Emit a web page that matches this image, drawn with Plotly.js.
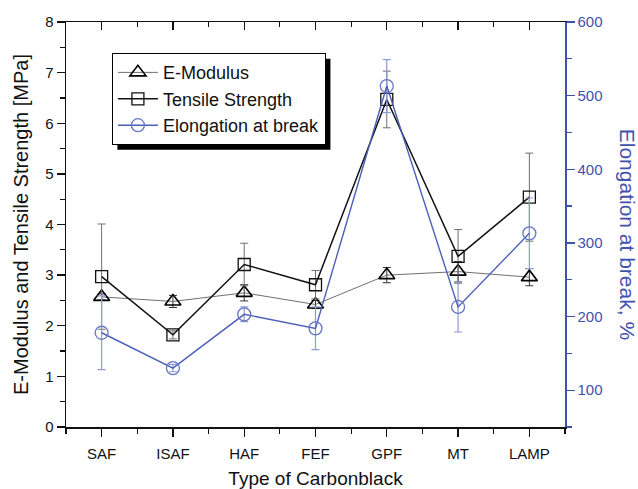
<!DOCTYPE html>
<html>
<head>
<meta charset="utf-8">
<script src="https://cdn.plot.ly/plotly-3.0.1.min.js"></script>
<style>html,body{margin:0;padding:0;background:#fff;}#chart{width:638px;height:489px;}</style>
</head>
<body>
<div id="chart"></div>
<script>
const categories = ['SAF', 'ISAF', 'HAF', 'FEF', 'GPF', 'MT', 'LAMP'];
const eModulus = [2.57, 2.48, 2.65, 2.42, 3.00, 3.07, 2.96];
const eModulusErr = [0.06, 0.12, 0.16, 0.08, 0.15, 0.20, 0.17];
const tensile = [2.97, 1.82, 3.21, 2.81, 6.47, 3.37, 4.54];
const tensileErr = [1.04, 0.08, 0.42, 0.28, 0.56, 0.53, 0.87];
const elongation = [178, 130, 203, 184, 513, 213, 313];
const elongationErr = [50, 5, 10, 29, 36, 34, 48];

const xIdx = categories.map((c, i) => i);
const BLUE = '#3f52ad';
const FONT = 'Liberation Sans, Arial, sans-serif';

const traces = [
  {
    name: 'E-Modulus', x: xIdx, y: eModulus, type: 'scatter', mode: 'lines+markers',
    line: {color: '#707070', width: 1},
    marker: {symbol: 'triangle-up-open', size: 14, color: '#000', line: {color: '#000', width: 1.6}},
    error_y: {type: 'data', array: eModulusErr, visible: true, color: '#333', thickness: 1, width: 4}
  },
  {
    name: 'Tensile Strength', x: xIdx, y: tensile, type: 'scatter', mode: 'lines+markers',
    line: {color: '#111', width: 1.5},
    marker: {symbol: 'square-open', size: 12, color: '#111', line: {color: '#111', width: 1.3}},
    error_y: {type: 'data', array: tensileErr, visible: true, color: '#6e6e6e', thickness: 1, width: 4}
  },
  {
    name: 'Elongation at break', x: xIdx, y: elongation, type: 'scatter', mode: 'lines+markers',
    xaxis: 'x2', yaxis: 'y2',
    line: {color: '#4c5fb8', width: 1.4},
    marker: {symbol: 'circle-open', size: 13, color: '#6676c4', line: {color: '#6676c4', width: 1.3}},
    error_y: {type: 'data', array: elongationErr, visible: true, color: '#8f9bd3', thickness: 1.2, width: 4}
  }
];

const layout = {
  width: 638, height: 489,
  margin: {l: 66, r: 73, t: 22, b: 62},
  paper_bgcolor: '#fff', plot_bgcolor: '#fff',
  font: {family: FONT, color: '#111', size: 14},
  showlegend: true,
  legend: {
    x: 0.092, y: 0.923, xanchor: 'left', yanchor: 'top',
    bgcolor: '#fff', bordercolor: '#000', borderwidth: 1,
    font: {family: FONT, size: 18, color: '#111'},
    tracegroupgap: 0, itemwidth: 40
  },
  xaxis: {
    range: [-0.5, 6.5], tickvals: xIdx, ticktext: categories,
    showgrid: false, zeroline: false, showline: true, linecolor: '#111', linewidth: 1.5,
    ticks: 'outside', ticklen: 8, tickwidth: 1.3, tickcolor: '#111',
    minor: {dtick: 0.5, tick0: 0, ticks: 'outside', ticklen: 5, tickwidth: 1.2, tickcolor: '#111', showgrid: false},
    tickfont: {family: FONT, size: 15, color: '#111'},
    ticklabelstandoff: 4,
    title: {text: 'Type of Carbonblack', font: {family: FONT, size: 19, color: '#111'}, standoff: 14},
    fixedrange: true
  },
  xaxis2: {
    overlaying: 'x', side: 'top', anchor: 'y',
    range: [-0.5, 6.5], tickvals: xIdx, ticktext: categories, showticklabels: false,
    showgrid: false, zeroline: false, showline: true, linecolor: '#111', linewidth: 1.5,
    ticks: 'inside', ticklen: 8, tickwidth: 1.3, tickcolor: '#111',
    minor: {dtick: 0.5, tick0: 0, ticks: 'inside', ticklen: 5, tickwidth: 1.2, tickcolor: '#111', showgrid: false},
    fixedrange: true
  },
  yaxis: {
    range: [0, 8], dtick: 1, tick0: 0,
    showgrid: false, zeroline: false, showline: true, linecolor: '#111', linewidth: 1.5,
    ticks: 'outside', ticklen: 8, tickwidth: 1.3, tickcolor: '#111',
    minor: {dtick: 0.5, ticks: 'outside', ticklen: 5, tickwidth: 1.2, tickcolor: '#111', showgrid: false},
    tickfont: {family: FONT, size: 15, color: '#111'},
    title: {text: 'E-Modulus and Tensile Strength [MPa]', font: {family: FONT, size: 20, color: '#111'}, standoff: 11},
    fixedrange: true
  },
  yaxis2: {
    overlaying: 'y', side: 'right', anchor: 'x2',
    range: [50, 600], dtick: 100, tick0: 0,
    showgrid: false, zeroline: false, showline: true, linecolor: BLUE, linewidth: 1.5,
    ticks: 'outside', ticklen: 8, tickwidth: 1.3, tickcolor: BLUE,
    minor: {dtick: 50, ticks: 'outside', ticklen: 5, tickwidth: 1.2, tickcolor: BLUE, showgrid: false},
    tickfont: {family: FONT, size: 15, color: BLUE},
    fixedrange: true
  },
  annotations: [{
    text: 'Elongation at break, %', textangle: 90,
    xref: 'paper', yref: 'paper', x: 1.126, y: 0.475, xanchor: 'center', yanchor: 'middle',
    showarrow: false, font: {family: FONT, size: 21, color: BLUE}
  }]
};

Plotly.newPlot('chart', traces, layout, {displayModeBar: false, staticPlot: true}).then(function (gd) {
  const bg = gd.querySelector('.legend .bg');
  if (!bg) return;
  const r = bg.getBoundingClientRect();
  const root = gd.getBoundingClientRect();
  const fl = gd._fullLayout, s = fl._size;
  const off = 5;
  const x0 = (r.left - root.left + off - s.l) / s.w;
  const x1 = (r.right - root.left + off - s.l) / s.w;
  const y0 = 1 - (r.bottom - root.top + off - s.t) / s.h;
  const y1 = 1 - (r.top - root.top + off - s.t) / s.h;
  return Plotly.relayout(gd, {shapes: [{
    type: 'rect', xref: 'paper', yref: 'paper', x0: x0, x1: x1, y0: y0, y1: y1,
    fillcolor: '#000', line: {width: 0}, layer: 'above'
  }]});
});
</script>
</body>
</html>
